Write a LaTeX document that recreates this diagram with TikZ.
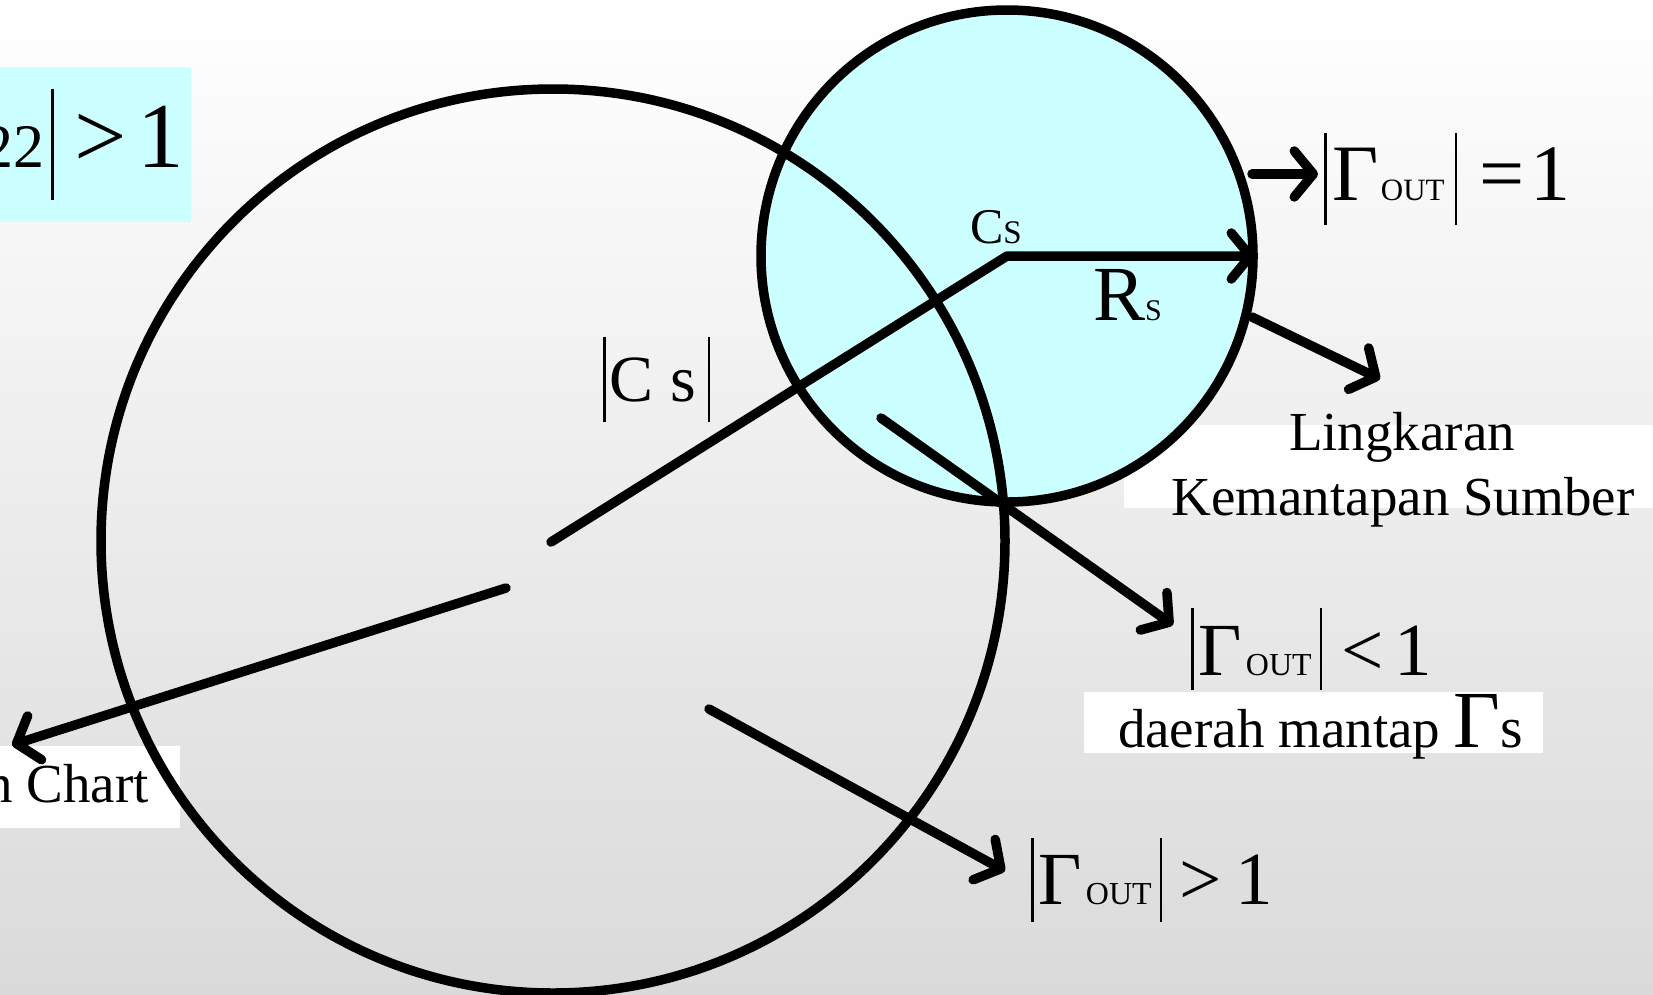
\documentclass[tikz,border=0pt]{standalone}
\usepackage{fontspec}
\setmainfont{Liberation Serif}
\usetikzlibrary{arrows.meta}
\definecolor{lcyan}{HTML}{CCFFFF}
\newcommand{\fsz}[1]{\fontsize{#1}{#1}\selectfont}
\newcommand{\vbr}[2]{\vrule width 2.6pt height #1pt depth #2pt}
\begin{document}
\begin{tikzpicture}[x=1pt,y=-1pt,
  thickline/.style={line width=9.5pt, line cap=round, line join=round},
  arr/.style={thickline, -{Straight Barb[length=19pt,width=46pt,round]}},
  lbl/.style={inner sep=0pt, outer sep=0pt, anchor=base west, text=black},
  lblc/.style={inner sep=0pt, outer sep=0pt, anchor=base, text=black, font=\fsz{55}},
  whitebox/.style={fill=white, draw=none},
  circ/.style={line width=9.5pt}]
\useasboundingbox (0,0) rectangle (1653,994);
\clip (0,0) rectangle (1653,994);
\shade[top color=white, middle color=gray!8, bottom color=gray!29] (0,0) rectangle (1653,994);

% boxes
\fill[lcyan] (0,67) rectangle (191,222);
\fill[whitebox] (1124,425) rectangle (1653,508);
\fill[whitebox] (1084,692) rectangle (1543,753);
\fill[whitebox] (0,746) rectangle (180,828);

% coordinates
\coordinate (bigc) at (553,541);
\coordinate (cs) at (1007,256);
\coordinate (cslow) at (551,542);
\coordinate (rsend) at (1255,256);
\coordinate (eq1a) at (1252,174);
\coordinate (eq1b) at (1318,174);
\coordinate (linga) at (1252,317);
\coordinate (lingb) at (1380,379);
\coordinate (lt1a) at (881,418);
\coordinate (lt1b) at (1173,625);
\coordinate (gt1a) at (709,709);
\coordinate (gt1b) at (1005,871);
\coordinate (smitha) at (506,588);
\coordinate (smithb) at (12,745);

% circles
\fill[lcyan] (cs) circle[radius=246];
\draw[circ] (cs) circle[radius=246];
\draw[circ] (bigc) circle[radius=452];

% connectors
\draw[arr] (cslow) -- (cs) -- (rsend);
\draw[arr] (eq1a) -- (eq1b);
\draw[arr] (linga) -- (lingb);
\draw[arr] (lt1a) -- (lt1b);
\draw[arr] (gt1a) -- (gt1b);
\draw[arr] (smitha) -- (smithb);

% labels
\node[lbl] (s22) at (-17,167) {{\fsz{62}22}\kern6pt\vbr{78}{33}\kern21pt{\fsz{93}>}\kern10pt{\fsz{93}1}};
\node[lbl] (geq) at (1324,200) {\vbr{67}{25}\kern6pt{\fsz{80}Γ}\kern2pt{\fsz{31}OUT}\kern10pt\vbr{67}{25}\kern22pt{\fsz{80}=}\kern6pt{\fsz{80}1}};
\node[lbl] (glt) at (1191,675) {\vbr{67}{15}\kern5pt{\fsz{75}Γ}\kern4pt{\fsz{32}OUT}\kern8pt\vbr{67}{15}\kern19pt{\fsz{75}<}\kern11pt{\fsz{75}1}};
\node[lbl] (ggt) at (1031,904) {\vbr{66}{18}\kern5pt{\fsz{75}Γ}\kern4pt{\fsz{32}OUT}\kern8pt\vbr{66}{18}\kern17pt{\fsz{75}>}\kern14pt{\fsz{75}1}};
\node[lbl] (rs) at (1093,320) {{\fsz{78}R}{\fsz{30}S}};
\node[lbl] (csl) at (970,243) {{\fsz{50}C}{\fsz{33}S}};
\node[lbl] (abscs) at (603,401) {\vbr{64}{21}\kern4pt{\fsz{66}C s}\kern12pt\vbr{64}{21}};
\node[lbl] (daerah) at (1118,747) {{\fsz{55}daerah mantap }{\fsz{81}Γ}{\fsz{58}s}};
\node[lblc] (ling1) at (1402,450) {Lingkaran};
\node[lblc] (ling2) at (1403,515) {Kemantapan Sumber};
\node[lbl, anchor=base east, font=\fsz{55}] (smith) at (149,802) {n Chart};
\end{tikzpicture}
\end{document}
